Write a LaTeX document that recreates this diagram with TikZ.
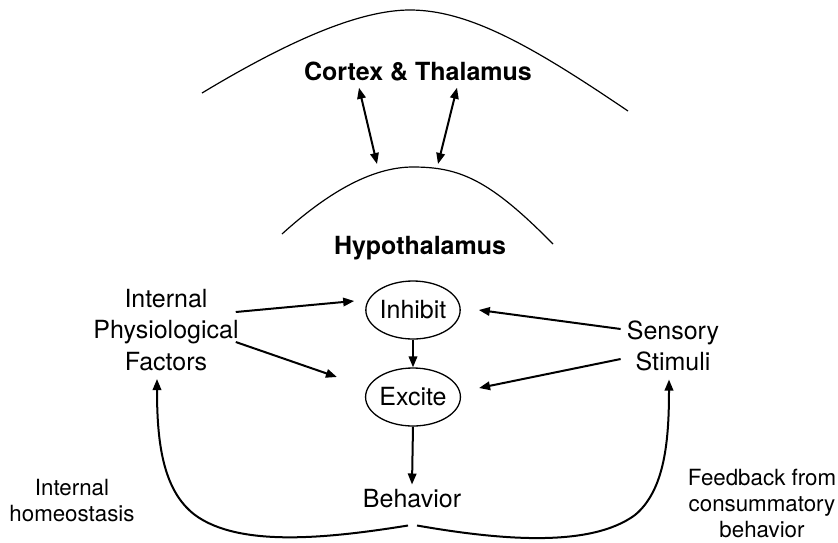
\documentclass[tikz,border=0pt]{standalone}
\usepackage{fontspec}
\setmainfont{TeX Gyre Heros}
\usetikzlibrary{arrows.meta,shapes.geometric}
\begin{document}
\begin{tikzpicture}[x=1pt,y=-1pt,
  lbl/.style={font=\fontsize{25}{31.5}\selectfont, inner sep=0pt, align=center},
  note/.style={font=\fontsize{22.3}{26}\selectfont, inner sep=0pt, align=center},
  ttl/.style={font=\bfseries\fontsize{25}{30}\selectfont, inner sep=0pt},
  oval/.style={ellipse, draw, line width=1.3pt, minimum width=88pt, minimum height=58pt, inner sep=0pt, font=\fontsize{25}{31}\selectfont},
  arr/.style={line width=2pt, -{Triangle[length=11pt,width=8.5pt]}},
  darr/.style={line width=2pt, {Triangle[length=11pt,width=8.5pt]}-{Triangle[length=11pt,width=8.5pt]}},
  bump/.style={line width=1.2pt},
  loop/.style={line width=2pt, -{Triangle[length=11pt,width=8.5pt]}}
]
\useasboundingbox (0,0) rectangle (838,542);

% arcs
\draw[bump] (202,93) .. controls (290,40) and (360,10) .. (410,10)
  .. controls (470,10) and (535,48) .. (628,111);
\draw[bump] (282,234) .. controls (325,195) and (370,167) .. (413,167)
  .. controls (460,167) and (490,180) .. (553,244);

% texts
\node[ttl] (ctx) at (418,72) {Cortex \& Thalamus};
\node[ttl] (hyp) at (420,248.5) {Hypothalamus};
\node[oval] (inh) at (413,310) {Inhibit};
\node[oval] (exc) at (413,397) {Excite};
\node[lbl] (ipf) at (166,330) {Internal\\Physiological\\Factors};
\node[lbl] (sen) at (673,346) {Sensory\\Stimuli};
\node[lbl] (beh) at (412,499) {Behavior};
\node[note] (ih) at (72,501) {Internal\\homeostasis};
\node[note] (fb) at (762,503) {Feedback from\\consummatory\\behavior};

\coordinate (hypL) at (377,164);
\coordinate (hypR) at (438,164);

% double arrows
\draw[darr] ([xshift=-59pt,yshift=-6pt]ctx.south) -- (hypL);
\draw[darr] ([xshift=39pt,yshift=-6pt]ctx.south) -- (hypR);

% arrows
\draw[arr] ([xshift=-3pt,yshift=18pt]ipf.east) -- ([xshift=-11pt,yshift=9pt]inh.west);
\draw[arr] ([xshift=-3pt,yshift=-12pt]ipf.east) -- ([xshift=-28pt,yshift=20pt]exc.west);
\draw[arr] ([xshift=-6pt,yshift=17pt]sen.west) -- ([xshift=18pt]inh.east);
\draw[arr] ([xshift=-6pt,yshift=-13pt]sen.west) -- ([xshift=18pt,yshift=9pt]exc.east);
\draw[arr] (inh.south) -- (exc.north);
\draw[arr] (exc.south) -- ([yshift=5pt]beh.north);

% feedback loops
\draw[loop] ([xshift=-4pt,yshift=-17pt]beh.south) .. controls (330,538) and (240,548) .. (195,515)
  .. controls (162,490) and (157,440) .. ([xshift=-9pt,yshift=-8pt]ipf.south);
\draw[loop] ([xshift=5pt,yshift=-17pt]beh.south) .. controls (500,540) and (590,548) .. (635,515)
  .. controls (665,490) and (669,440) .. ([xshift=-4pt,yshift=-8pt]sen.south);
\end{tikzpicture}
\end{document}
